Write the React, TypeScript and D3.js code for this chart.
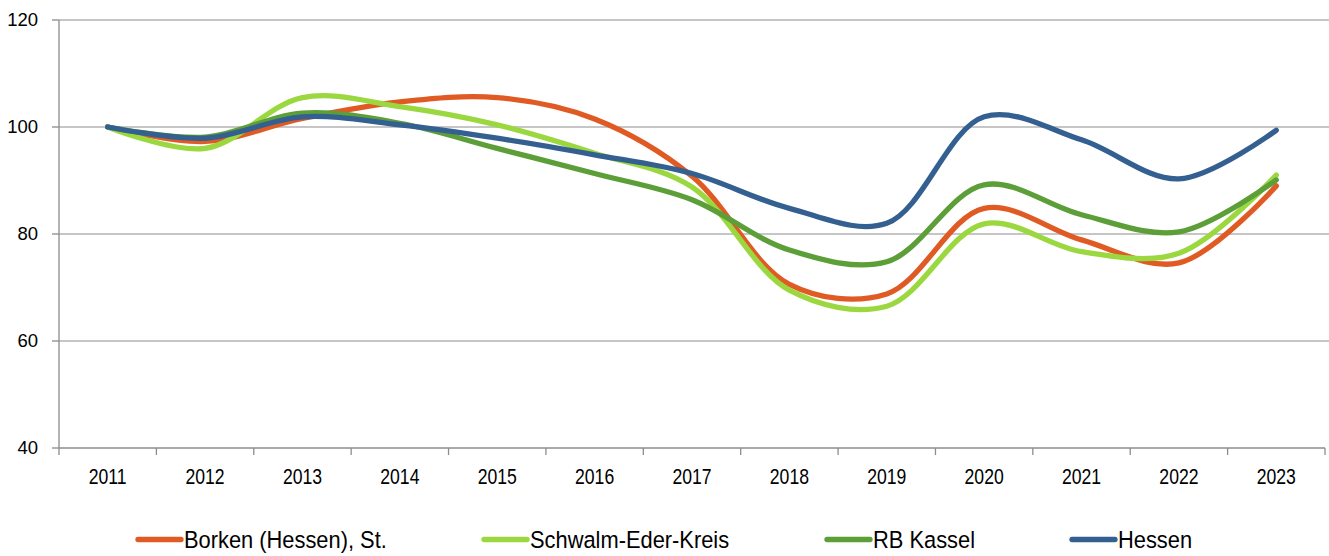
import React, { useEffect, useRef } from "react";
import * as d3 from "d3";

const years = ["2011","2012","2013","2014","2015","2016","2017","2018","2019","2020","2021","2022","2023"];
const borken = [100, 97.3, 101.6, 104.7, 105.5, 101.5, 90.8, 70.6, 68.8, 84.8, 78.9, 74.6, 89.0];
const schwalm = [100, 96.0, 105.5, 103.8, 100.4, 95.1, 88.8, 69.5, 66.5, 81.9, 76.7, 76.4, 91.0];
const rbKassel = [100, 98.1, 102.6, 100.7, 96.0, 91.3, 86.4, 77.0, 74.8, 89.2, 83.6, 80.4, 90.1];
const hessen = [100, 97.9, 101.9, 100.4, 97.9, 94.8, 91.3, 84.8, 82.0, 101.9, 97.6, 90.3, 99.4];
const yTicks = [40, 60, 80, 100, 120];

const seriesNames = ["Borken (Hessen), St.", "Schwalm-Eder-Kreis", "RB Kassel", "Hessen"];
const seriesData = [borken, schwalm, rbKassel, hessen];
const colors = ["#E05A23", "#9BD73F", "#5C9E37", "#346091"];

const W = 1329, H = 556;
const FONT = "'Liberation Sans', Arial, sans-serif";

export default function App() {
  const ref = useRef<SVGSVGElement>(null);
  useEffect(() => {
    const svg = d3.select(ref.current);
    svg.selectAll("*").remove();
    const left = 59, right = 1325, top = 20, bottom = 448;
    const x = d3.scaleBand().domain(years).range([left, right]);
    const y = d3.scaleLinear().domain([40, 120]).range([bottom, top]);

    // grid
    svg.append("g").selectAll("line").data(yTicks.filter(t => t !== 40)).join("line")
      .attr("x1", left).attr("x2", W).attr("y1", d => y(d)).attr("y2", d => y(d))
      .attr("stroke", "#b3b3b3").attr("stroke-width", 1.3);

    // y axis
    svg.append("line").attr("x1", left).attr("x2", left).attr("y1", top).attr("y2", bottom)
      .attr("stroke", "#8c8c8c").attr("stroke-width", 1.3);
    svg.append("g").selectAll("line").data(yTicks).join("line")
      .attr("x1", left - 7).attr("x2", left).attr("y1", d => y(d)).attr("y2", d => y(d))
      .attr("stroke", "#8c8c8c").attr("stroke-width", 1.3);
    svg.append("g").selectAll("text").data(yTicks).join("text")
      .attr("x", 38).attr("y", d => y(d)).attr("dy", "0.35em").attr("text-anchor", "end")
      .attr("font-family", FONT).attr("font-size", 18.5).attr("fill", "#000").text(d => String(d));

    // x axis
    svg.append("line").attr("x1", left).attr("x2", right).attr("y1", bottom).attr("y2", bottom)
      .attr("stroke", "#8c8c8c").attr("stroke-width", 1.3);
    const bounds = years.map(yr => x(yr) as number).concat([right]);
    svg.append("g").selectAll("line").data(bounds).join("line")
      .attr("x1", d => d).attr("x2", d => d).attr("y1", bottom).attr("y2", bottom + 7)
      .attr("stroke", "#8c8c8c").attr("stroke-width", 1.3);
    svg.append("g").selectAll("text").data(years).join("text")
      .attr("transform", d => `translate(${(x(d) as number) + x.bandwidth() / 2},484.3) scale(0.8,1)`)
      .attr("text-anchor", "middle").attr("font-family", FONT).attr("font-size", 22).attr("fill", "#000")
      .text(d => d);

    // lines
    const line = d3.line<number>()
      .x((_, i) => (x(years[i]) as number) + x.bandwidth() / 2)
      .y(d => y(d))
      .curve(d3.curveCatmullRom.alpha(0.5));
    seriesData.forEach((s, i) => {
      svg.append("path").attr("d", line(s) as string).attr("fill", "none")
        .attr("stroke", colors[i]).attr("stroke-width", 5.3).attr("stroke-linecap", "round")
        .attr("stroke-linejoin", "round");
    });

    // legend
    const legendX = [138, 484, 827, 1072];
    const ly = 539.5;
    seriesNames.forEach((n, i) => {
      const g = svg.append("g");
      g.append("line").attr("x1", legendX[i]).attr("x2", legendX[i] + 43).attr("y1", ly).attr("y2", ly)
        .attr("stroke", colors[i]).attr("stroke-width", 5.3).attr("stroke-linecap", "round");
      g.append("text").attr("transform", `translate(${legendX[i] + 46},548.3) scale(0.93,1)`)
        .attr("font-family", FONT).attr("font-size", 23.5).attr("fill", "#000").text(n);
    });
  }, []);
  return (
    <svg ref={ref} width={W} height={H} style={{ position: "absolute", left: 0, top: 0, background: "#fff" }} />
  );
}
